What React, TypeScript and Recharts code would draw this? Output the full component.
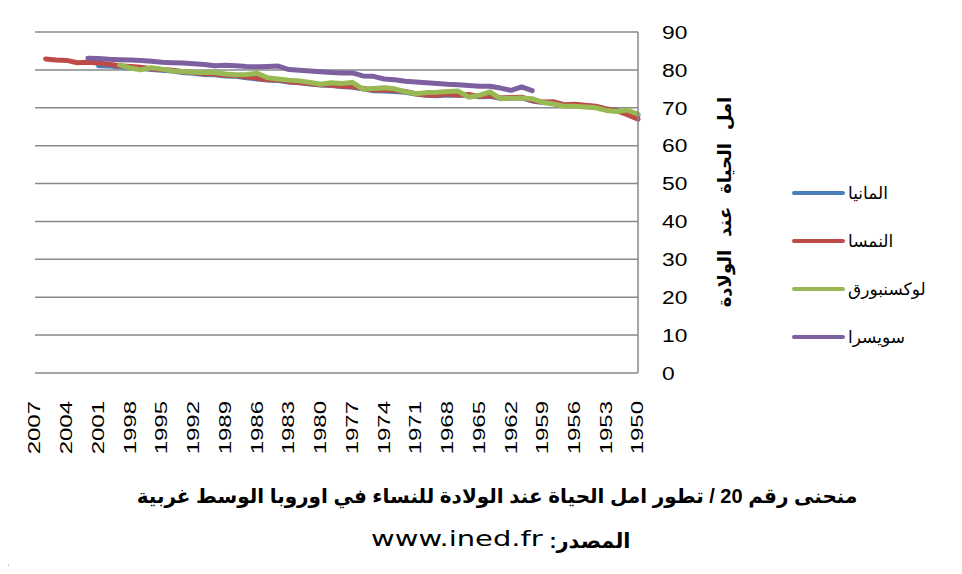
import React from 'react';
import { LineChart, Line, XAxis, YAxis, CartesianGrid, Legend } from 'recharts';

const years = [
  2007, 2006, 2005, 2004, 2003, 2002, 2001, 2000, 1999, 1998,
  1997, 1996, 1995, 1994, 1993, 1992, 1991, 1990, 1989, 1988,
  1987, 1986, 1985, 1984, 1983, 1982, 1981, 1980, 1979, 1978,
  1977, 1976, 1975, 1974, 1973, 1972, 1971, 1970, 1969, 1968,
  1967, 1966, 1965, 1964, 1963, 1962, 1961, 1960, 1959, 1958,
  1957, 1956, 1955, 1954, 1953, 1952, 1951, 1950,
];

// المانيا (mostly hidden under the other lines)
const germany = [
  null, null, null, null, null, null, 81.1, 81.0, 80.8, 80.6,
  80.4, 80.1, 79.9, 79.7, 79.3, 79.1, 78.8, 78.7, 78.4, 78.3,
  77.9, 77.6, 77.3, 77.2, 76.8, 76.6, 76.3, 76.0, 75.9, 75.6,
  75.4, 75.0, 74.5, 74.4, 74.3, 74.1, 73.6, 73.3, 73.2, 73.4,
  73.3, 73.3, 72.9, 73.0, 72.5, 72.5, 72.6, 71.8, 71.4, 71.4,
  70.7, 70.7, 70.6, 70.3, 69.7, 69.3, 68.6, 68.0,
];

// النمسا
const austria = [
  null, 82.9, 82.6, 82.5, 81.9, 82.0, 81.8, 81.5, 81.1, 80.9,
  80.7, 80.3, 80.1, 79.9, 79.5, 79.3, 79.0, 78.9, 78.6, 78.5,
  78.1, 77.8, 77.4, 77.4, 76.9, 76.7, 76.4, 76.1, 76.0, 75.7,
  75.6, 75.1, 74.7, 74.7, 74.6, 74.3, 73.7, 73.4, 73.3, 73.6,
  73.4, 73.5, 73.0, 73.2, 72.6, 72.7, 72.8, 71.9, 71.5, 71.6,
  70.8, 70.9, 70.7, 70.4, 69.7, 69.2, 68.2, 67.0,
];

// لوكسنبورق
const luxembourg = [
  null, null, null, null, null, null, null, null, 81.3, 80.5,
  80.0, 80.6, 80.2, 79.7, 79.6, 79.4, 79.3, 79.3, 78.9, 78.7,
  78.8, 79.1, 77.9, 77.6, 77.3, 77.1, 76.7, 76.2, 76.6, 76.4,
  76.7, 74.9, 75.1, 75.3, 75.0, 74.2, 73.7, 74.0, 74.1, 74.3,
  74.4, 72.8, 73.3, 74.2, 72.4, 72.5, 72.6, 72.4, 71.4, 71.0,
  70.4, 70.4, 70.2, 70.0, 69.3, 69.0, 69.4, 68.3,
];

// سويسرا
const switzerland = [
  null, null, null, null, null, 83.1, 83.0, 82.8, 82.7, 82.6,
  82.5, 82.3, 82.0, 81.9, 81.8, 81.6, 81.4, 81.1, 81.2, 81.1,
  80.9, 80.8, 80.9, 81.0, 80.1, 79.9, 79.7, 79.5, 79.3, 79.2,
  79.2, 78.4, 78.3, 77.6, 77.4, 77.0, 76.8, 76.6, 76.4, 76.2,
  76.1, 75.9, 75.7, 75.7, 75.2, 74.6, 75.5, 74.5, null, null,
  null, null, null, null, null, null, null, null,
];

const yTicks = [0, 10, 20, 30, 40, 50, 60, 70, 80, 90];

const seriesKeys = ['germany', 'austria', 'luxembourg', 'switzerland'];
const seriesNames = ['المانيا', 'النمسا', 'لوكسنبورق', 'سويسرا'];
const seriesColors = ['#4a7ebb', '#be4b48', '#98b954', '#7d60a0'];

const yTitle = 'امل الحياة عند الولادة';
const chartTitle = 'منحنى رقم 20 / تطور امل الحياة عند الولادة للنساء في اوروبا الوسط غربية';
const sourceLabel = 'المصدر:';
const sourceUrl = 'www.ined.fr';

const data = years.map((year, i) => ({
  year,
  germany: germany[i],
  austria: austria[i],
  luxembourg: luxembourg[i],
  switzerland: switzerland[i],
}));

const FONT = '"Liberation Sans", "DejaVu Sans", Arial, sans-serif';

function XTick({ x, y, payload }: any) {
  return (
    <g transform={`translate(${x},${y + 20}) rotate(-90) scale(1.5,1)`}>
      <text x={0} y={0} textAnchor="end" dominantBaseline="central" fontSize={16} fill="#000" fontFamily={FONT}>
        {payload.value}
      </text>
    </g>
  );
}

function YTick({ x, y, payload }: any) {
  return (
    <g transform={`translate(${x + 16},${y}) scale(1.2,1)`}>
      <text x={0} y={0} textAnchor="start" dominantBaseline="central" fontSize={19} fill="#000" fontFamily={FONT}>
        {payload.value}
      </text>
    </g>
  );
}

function YTitle({ viewBox }: any) {
  const cx = viewBox.x + 87;
  const cy = 202;
  return (
    <text
      x={cx}
      y={cy}
      transform={`rotate(-90, ${cx}, ${cy})`}
      textAnchor="middle"
      dominantBaseline="central"
      fontSize={18}
      fontWeight="bold"
      fill="#000"
      fontFamily={FONT}
      wordSpacing={8}
    >
      {yTitle}
    </text>
  );
}

function LegendBox({ payload }: any) {
  const items = [...(payload || [])].sort(
    (a: any, b: any) => seriesNames.indexOf(a.value) - seriesNames.indexOf(b.value)
  );
  return (
    <div>
      {items.map((item: any) => (
        <div key={item.value} style={{ height: 48, display: 'flex', alignItems: 'center' }}>
          <div style={{ width: 53, height: 4, borderRadius: 2, background: item.color }} />
          <span dir="rtl" style={{ marginLeft: 3, fontSize: 17, color: '#000', fontFamily: FONT }}>
            {item.value}
          </span>
        </div>
      ))}
    </div>
  );
}

export default function App() {
  return (
    <div style={{ position: 'relative', width: 962, height: 574, margin: -8, background: '#fff', overflow: 'hidden', fontFamily: FONT }}>
      <div style={{ position: 'absolute', left: 6, top: 1, width: 970, height: 570, border: '2px solid #898989', borderRadius: 8, boxSizing: 'border-box' }} />
      <LineChart
        width={962}
        height={574}
        data={data}
        margin={{ top: 32, left: 35, right: 204, bottom: 121 }}
      >
        <CartesianGrid vertical={false} stroke="#898989" strokeWidth={1.5} />
        <XAxis
          dataKey="year"
          interval={2}
          height={80}
          axisLine={false}
          tickLine={false}
          tick={<XTick />}
        />
        <YAxis
          orientation="right"
          domain={[0, 90]}
          ticks={yTicks}
          width={120}
          axisLine={{ stroke: '#898989', strokeWidth: 1.5 }}
          tickLine={false}
          tick={<YTick />}
          label={<YTitle />}
        />
        <Legend
          layout="vertical"
          align="center"
          verticalAlign="middle"
          wrapperStyle={{ left: 792, top: 169, width: 170, height: 192 }}
          content={<LegendBox />}
        />
        {seriesKeys.map((k, i) => (
          <Line
            key={k}
            type="linear"
            dataKey={k}
            name={seriesNames[i]}
            stroke={seriesColors[i]}
            strokeWidth={5}
            strokeLinecap="round"
            strokeLinejoin="round"
            dot={false}
            activeDot={false}
            isAnimationActive={false}
          />
        ))}
      </LineChart>
      <div dir="rtl" style={{ position: 'absolute', left: 0, width: 994, top: 484, textAlign: 'center', fontSize: 20, fontWeight: 'bold', color: '#000', whiteSpace: 'nowrap' }}>
        {chartTitle}
      </div>
      <div dir="rtl" style={{ position: 'absolute', left: 0, width: 1002, top: 527, display: 'flex', justifyContent: 'center', alignItems: 'center', gap: 6, fontSize: 21, color: '#000' }}>
        <b>{sourceLabel}</b>
        <span style={{ display: 'inline-block', width: 172, height: 28, position: 'relative' }}>
          <span dir="ltr" style={{ position: 'absolute', left: 0, top: 0, transform: 'scaleX(1.38)', transformOrigin: 'left center', fontFamily: '"DejaVu Sans", sans-serif' }}>
            {sourceUrl}
          </span>
        </span>
      </div>
    </div>
  );
}
